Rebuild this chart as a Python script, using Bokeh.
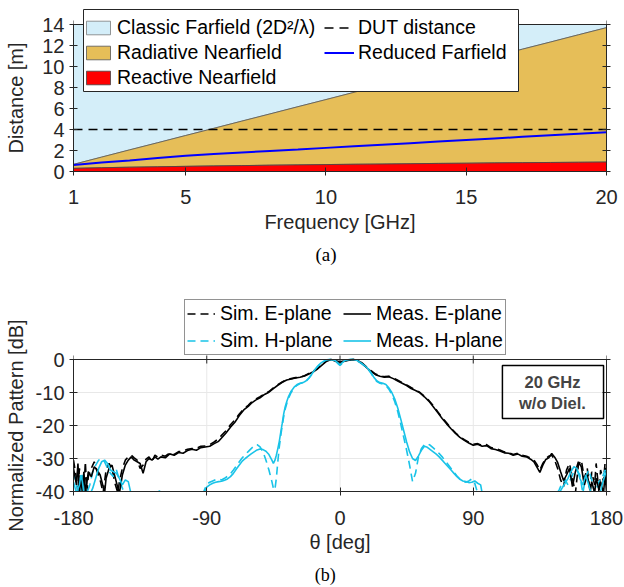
from bokeh.plotting import figure
from bokeh.models import Range1d, LinearAxis, Legend, LegendItem, Label, BoxAnnotation, FixedTicker, Span
from bokeh.layouts import column
from bokeh.embed import file_html
from bokeh.resources import INLINE

# ---------------- data: (a) distances vs frequency ----------------
freq = [1, 2, 3, 4, 5, 6, 7, 8, 9, 10, 11, 12, 13, 14, 15, 16, 17, 18, 19, 20]
classic_farfield = [0.68, 1.37, 2.06, 2.74, 3.43, 4.11, 4.80, 5.48, 6.17, 6.85,
                    7.54, 8.22, 8.91, 9.59, 10.28, 10.96, 11.65, 12.33, 13.02, 13.70]
reduced_farfield = [0.62, 0.85, 1.05, 1.28, 1.50, 1.66, 1.81, 1.96, 2.10, 2.25,
                    2.40, 2.55, 2.70, 2.85, 3.00, 3.15, 3.30, 3.45, 3.60, 3.74]
reactive_nearfield = [0.30, 0.36, 0.41, 0.45, 0.49, 0.53, 0.56, 0.60, 0.63, 0.66,
                      0.69, 0.71, 0.74, 0.77, 0.79, 0.82, 0.84, 0.86, 0.88, 0.90]
dut_distance = 4.0
freq_min, freq_max = 1, 20
dist_min, dist_max = 0.0, 14.0
freq_ticks = [1, 5, 10, 15, 20]
freq_tick_labels = ["1", "5", "10", "15", "20"]
dist_ticks = [0, 2, 4, 6, 8, 10, 12, 14]
dist_tick_labels = ["0", "2", "4", "6", "8", "10", "12", "14"]

# ---------------- data: (b) normalized patterns ----------------
theta_E = [-180, -178, -177, -176, -175, -174, -173, -172, -171, -170,
           -168, -166, -164, -162, -160, -159, -158, -156, -154, -152,
           -150, -149, -147, -145, -143, -141, -139, -137, -135, -133,
           -131, -129, -127, -125, -123, -121, -118, -115, -112, -109,
           -106, -103, -100, -97, -94, -91, -88, -85, -82, -80,
           -77, -74, -71, -68, -65, -62, -60, -57, -54, -51,
           -48, -45, -42, -39, -36, -33, -30, -27, -24, -21,
           -18, -15, -12, -9, -6, -3, 0, 3, 6, 9,
           12, 15, 18, 21, 24, 27, 30, 33, 36, 39,
           42, 45, 48, 51, 54, 57, 60, 63, 66, 69,
           72, 75, 78, 81, 84, 87, 90, 93, 96, 99,
           102, 105, 108, 111, 114, 117, 120, 123, 126, 129,
           131, 133, 135, 137, 139, 141, 143, 145, 147, 149,
           151, 153, 155, 157, 159, 161, 163, 165, 167, 169,
           170, 172, 173, 175, 176, 178, 179, 180]
meas_E = [-33, -38, -31.5, -40, -36, -40.5, -34, -40, -37.5, -34,
          -35.5, -32.5, -33.5, -35, -38.5, -40.5, -36, -33, -32, -35.5,
          -39, -40.5, -35, -32, -30.5, -29.5, -30.5, -31, -31.5, -34.5,
          -31, -30, -30.5, -29.5, -30.2, -29.5, -29.8, -28.6, -29, -28.2,
          -28.4, -27.6, -27.2, -27.5, -26.7, -26.5, -26.3, -25.5, -24.8, -23.8,
          -22.3, -20.5, -19, -17, -15.3, -14.2, -13.3, -12.3, -11.6, -10.6,
          -9.9, -8.8, -7.8, -6.9, -6.2, -5.9, -5.6, -5.4, -5.0, -4.4,
          -3.7, -2.8, -1.6, -0.5, 0, -0.5, -0.9, -0.5, -0.2, 0,
          -0.3, -1.2, -2.5, -3.6, -4.6, -5.1, -5.4, -5.2, -5.8, -6.5,
          -7.2, -7.9, -8.8, -9.4, -10.1, -11.3, -12.6, -14.3, -16.1, -17.9,
          -19.5, -21, -22.4, -23.6, -24.5, -25.3, -26, -25.7, -26.3, -26.1,
          -27, -27.3, -27.7, -28.3, -28.4, -29, -28.6, -29.3, -29.5, -30.3,
          -31, -32.6, -34.2, -32, -30.3, -29.8, -28.5, -29.6, -31.2, -34,
          -36.7, -35, -33, -38.5, -34, -31, -32.5, -38, -35, -39.5,
          -37, -40.5, -36, -39.5, -37, -40.5, -35, -40]
sim_E = [-30.5, -36, -40.5, -33, -39, -35, -40.5, -31, -40, -35.5,
         -33, -31, -34, -36.5, -40.5, -37, -33.5, -31.5, -33, -37.5,
         -40.5, -37, -33, -30.5, -29.5, -29, -29.8, -30.5, -33, -32,
         -30.2, -29.5, -31, -29, -29.6, -29, -29.3, -28.3, -28.8, -27.9,
         -27.8, -27.2, -27, -26.9, -26.3, -26.2, -25.8, -25, -24, -23,
         -21.6, -19.8, -18.3, -16.5, -15, -13.9, -13, -12, -11.3, -10.4,
         -9.7, -8.6, -7.6, -6.8, -6.1, -5.8, -5.5, -5.3, -4.9, -4.2,
         -3.5, -2.6, -1.4, -0.4, 0, -0.4, -0.7, -0.4, -0.1, 0,
         -0.2, -1.1, -2.3, -3.4, -4.4, -4.9, -5.2, -5.1, -5.6, -6.3,
         -7.0, -7.7, -8.5, -9.2, -10.0, -11.1, -12.4, -14.0, -15.8, -17.6,
         -19.2, -20.8, -22.2, -23.4, -24.3, -25.1, -25.7, -25.5, -26.0, -25.8,
         -26.7, -27.0, -27.4, -28.0, -28.2, -28.8, -28.4, -29.0, -29.3, -30,
         -30.5, -31.8, -33.5, -31.5, -30, -29.3, -29, -30.5, -33, -36.5,
         -38.5, -33.5, -31.5, -36, -40.5, -32, -30.5, -36, -33, -40.5,
         -34, -38, -31.5, -40.5, -33.5, -37, -31.5, -36]

theta_H = [-180, -178, -176, -175, -174, -173, -171, -169, -167, -165,
           -163, -161, -159, -157, -155, -153, -151, -149, -147, -145,
           -143, -141, -138, -130, -123, -122, -121, -110, -100, -94,
           -92, -90, -88, -86, -84, -82, -80, -78, -76, -74,
           -72, -70, -68, -66, -64, -62, -60, -58, -56, -54,
           -52, -50, -48, -46, -45, -44, -43, -42, -41, -40,
           -39, -38, -37, -36, -35, -33, -31, -29, -27, -25,
           -23, -21, -19, -17, -15, -13, -11, -9, -7, -5,
           -3, -1, 0, 1, 3, 5, 7, 9, 11, 13,
           15, 17, 19, 21, 23, 25, 27, 29, 31, 33,
           35, 37, 39, 41, 43, 45, 47, 49, 51, 53,
           55, 57, 59, 61, 63, 65, 67, 69, 71, 73,
           75, 77, 79, 81, 83, 85, 87, 89, 91, 93,
           95, 96, 100, 120, 140, 146, 148, 150, 152, 154,
           156, 158, 160, 162, 164, 166, 168, 170, 172, 175,
           177, 179, 180]
meas_H = [-37, -40.5, -38, -35, -37, -40.5, -42, -41, -39, -36,
          -33, -31, -30.5, -31.5, -33.5, -34, -34.5, -36, -38, -36.5,
          -37, -41, -45, -48, -42, -39.7, -42, -48, -48, -44,
          -40.5, -38.7, -38, -37.5, -37.2, -37, -36.9, -36.6, -36.2, -35.5,
          -34.5, -33.2, -32, -30.8, -30, -29.3, -28.6, -28, -27.4, -27.1,
          -27.3, -27.8, -28.8, -30.5, -31.5, -30.6, -29, -27, -24.8, -22,
          -19.3, -16.4, -14.3, -12.8, -11.5, -9.6, -8.4, -7.6, -7.2, -7.0,
          -6.5, -5.6, -4.4, -3.1, -2.0, -1.1, -0.5, -0.1, 0, -0.1,
          -0.4, -1.2, -1.6, -1.2, -0.4, -0.1, 0, 0, -0.2, -0.7,
          -1.3, -2, -2.8, -4, -5.5, -6.5, -7, -7.2, -7.6, -8.6,
          -10, -12, -14.7, -18, -21.5, -25, -28, -30, -30.6, -29.2,
          -27.5, -26.3, -26.6, -27.3, -28, -28.7, -29.5, -30.5, -31.5, -32.5,
          -33.5, -34.5, -35.5, -36.3, -36.8, -37, -37.3, -37.2, -36.8, -37.5,
          -38, -40.5, -45, -48, -46, -42, -40.5, -39, -37.5, -36,
          -34, -32.5, -33, -36, -38, -35, -38, -41, -44, -42,
          -38, -35, -34]
sim_H = [-34, -38, -41, -39, -35, -37.5, -40.5, -38, -34, -32,
         -30.5, -30, -31, -33, -34.5, -35.5, -33.5, -36.5, -39, -41,
         -42, -44, -47, -48, -46, -44, -46, -48, -47, -43,
         -40, -37.8, -37.2, -36.8, -36.4, -36.2, -36.5, -36, -35.4, -34.6,
         -33.5, -32.3, -31, -29.8, -28.8, -27.9, -27, -26.2, -25.8, -26.5,
         -28, -30.5, -33.5, -37, -39, -39.5, -36, -31, -26.5, -23,
         -20, -17.2, -15, -13.4, -12, -10, -8.6, -7.8, -7.3, -7.1,
         -6.6, -5.7, -4.5, -3.2, -2.1, -1.2, -0.6, -0.2, 0, -0.2,
         -0.5, -1.4, -1.8, -1.4, -0.5, -0.2, 0, 0, -0.3, -0.8,
         -1.4, -2.1, -3, -4.2, -5.7, -6.7, -7.2, -7.4, -7.9, -9,
         -10.6, -12.8, -15.8, -19.5, -23.5, -27.5, -32, -37, -34.5, -29.5,
         -27, -25.8, -25.5, -26, -26.8, -27.6, -28.5, -29.5, -30.7, -31.8,
         -33, -34.2, -35.3, -36.2, -36.8, -37.2, -36.8, -36.2, -37.5, -40.5,
         -43, -45, -48, -48, -45, -41, -39.5, -37.5, -36.5, -38,
         -36, -34, -33.5, -35, -40.5, -35.5, -33.5, -36.5, -40.5, -37,
         -36, -33.5, -35]
theta_min, theta_max = -180, 180
theta_ticks = [-180, -90, 0, 90, 180]
theta_tick_labels = ["-180", "-90", "0", "90", "180"]
db_ticks = [-40, -30, -20, -10, 0]
db_tick_labels = ["-40", "-30", "-20", "-10", "0"]
db_min, db_max = -40.0, 0.0

assert len(theta_E) == len(meas_E) == len(sim_E)
assert len(theta_H) == len(meas_H) == len(sim_H)

# ---------------- layout (pixels) ----------------
W = 624
BORDER_L, BORDER_R = 73, 18
FRAME_W = W - BORDER_L - BORDER_R
P1_H, P1_TOP, P1_BOTTOM = 270, 7, 99      # frame of (a) reaches above the axes box (room for legend)
BOX1_H = 147                              # pixel height of the 0..14 m axes box
P2_H, P2_TOP, P2_BOTTOM = 317, 27, 96     # frame of (b) reaches above the axes box (room for legend)
BOX2_H = 132                              # pixel height of the -40..0 dB axes box
TICK = 4                                  # tick length (in / out)

# ---------------- styling ----------------
SANS = "Liberation Sans"
SERIF = "Liberation Serif"
AXC = "#262626"
C_CLASSIC = "#d4eef9"
C_RADIATIVE = "#e6be58"
C_REACTIVE = "#ff0000"
C_CYAN = "#19c3e8"
TICK_FS = "20px"
LABEL_FS = "20px"
LEG_FS = "19.5px"


def style_axis(ax, ticks, labels=None, bounds=None):
    ax.ticker = FixedTicker(ticks=ticks)
    ax.axis_line_color = AXC
    ax.major_tick_line_color = AXC
    ax.major_tick_in = TICK
    ax.major_tick_out = TICK
    ax.minor_tick_line_color = None
    ax.major_label_text_font = SANS
    ax.major_label_text_color = AXC
    ax.axis_label_text_font = SANS
    ax.axis_label_text_font_style = "normal"
    ax.axis_label_text_font_size = LABEL_FS
    ax.axis_label_text_color = AXC
    if bounds is not None:
        ax.bounds = bounds
    if labels is not None:
        ax.major_label_text_font_size = TICK_FS
        ax.major_label_overrides = {t: s for t, s in zip(ticks, labels)}
    else:
        ax.major_label_text_font_size = "1px"
        ax.major_label_text_color = None
        ax.major_label_standoff = 0


def text_axis(pos, text, standoff, font, size, color, orientation=None):
    """An axis with a single labelled position, used to place a text outside the frame."""
    ax = LinearAxis(ticker=FixedTicker(ticks=[pos]), major_label_overrides={pos: text})
    ax.axis_line_color = None
    ax.major_tick_line_color = None
    ax.minor_tick_line_color = None
    ax.major_tick_in = 0
    ax.major_tick_out = 0
    ax.major_label_standoff = standoff
    ax.major_label_text_font = font
    ax.major_label_text_font_size = size
    ax.major_label_text_color = color
    if orientation is not None:
        ax.major_label_orientation = orientation
    return ax


def style_legend(leg, glyph_w, standoff, spacing, padding, framed=True):
    if framed:
        leg.border_line_color = AXC
        leg.border_line_width = 1
        leg.background_fill_alpha = 1
    else:
        leg.border_line_color = None
        leg.background_fill_alpha = 0
    leg.label_text_font = SANS
    leg.label_text_font_size = LEG_FS
    leg.label_text_color = "black"
    leg.glyph_width = glyph_w
    leg.glyph_height = 17
    leg.label_standoff = standoff
    leg.spacing = spacing
    leg.padding = padding
    leg.margin = 0


# ================= (a) =================
frame1_h = P1_H - P1_TOP - P1_BOTTOM
y1_end = dist_min + (dist_max - dist_min) * frame1_h / BOX1_H
p1 = figure(width=W, height=P1_H, x_range=Range1d(freq_min, freq_max), y_range=Range1d(dist_min, y1_end),
            output_backend="svg", toolbar_location=None,
            min_border_left=BORDER_L, min_border_right=BORDER_R,
            min_border_top=P1_TOP, min_border_bottom=P1_BOTTOM)
p1.grid.grid_line_color = None
p1.outline_line_color = None
p1.background_fill_color = "white"

n = len(freq)
top_line = [dist_max] * n
zero_line = [dist_min] * n
r_classic = p1.patch(freq + freq[::-1], classic_farfield + top_line[::-1],
                     fill_color=C_CLASSIC, line_color="#7a7a7a", line_width=0.8)
r_rad = p1.patch(freq + freq[::-1], reactive_nearfield + classic_farfield[::-1],
                 fill_color=C_RADIATIVE, line_color="#555555", line_width=0.8)
r_rea = p1.patch(freq + freq[::-1], zero_line + reactive_nearfield[::-1],
                 fill_color=C_REACTIVE, line_color="#444444", line_width=0.8)
r_red = p1.line(freq, reduced_farfield, line_color="#0000ff", line_width=2)
r_dut = p1.line(freq, [dut_distance] * n, line_color="black", line_width=1.6, line_dash="9 6")
# top edge of the axes box with its tick marks
p1.add_layout(Span(location=dist_max, dimension="width", line_color=AXC, line_width=1))
t1 = TICK * (dist_max - dist_min) / BOX1_H
p1.segment(x0=freq_ticks, y0=[dist_max - t1] * len(freq_ticks), x1=freq_ticks,
           y1=[dist_max + t1] * len(freq_ticks), line_color=AXC, line_width=1)

p1.add_layout(LinearAxis(), "right")
style_axis(p1.below[0], freq_ticks, freq_tick_labels)
style_axis(p1.left[0], dist_ticks, dist_tick_labels, bounds=(dist_min, dist_max))
style_axis(p1.right[0], dist_ticks, bounds=(dist_min, dist_max))
p1.below[0].major_label_standoff = 14
p1.below[0].axis_label = "Frequency [GHz]"
p1.below[0].axis_label_standoff = 4
p1.left[0].major_label_standoff = 5
p1.add_layout(text_axis((dist_min + dist_max) / 2, "Distance [m]", 13, SANS, LABEL_FS, AXC,
                        orientation="parallel"), "left")
p1.add_layout(text_axis(10, "(a)", 8, SERIF, "19px", "black"), "below")


# legend frame (pixel box converted to data units of the frame)
def px_to_f(px):
    return freq_min + (px - BORDER_L) * (freq_max - freq_min) / FRAME_W


def py_to_d(py):
    return dist_min + (P1_TOP + frame1_h - py) * (dist_max - dist_min) / BOX1_H


p1.add_layout(BoxAnnotation(left=px_to_f(83), right=px_to_f(518), top=py_to_d(9), bottom=py_to_d(91),
                            fill_color="white", fill_alpha=1, line_color=AXC, line_alpha=1, line_width=1))
leg1a = Legend(items=[
    LegendItem(label="Classic Farfield (2D\u00b2/\u03bb)", renderers=[r_classic]),
    LegendItem(label="Radiative Nearfield", renderers=[r_rad]),
    LegendItem(label="Reactive Nearfield", renderers=[r_rea]),
], location=(10, 82))
style_legend(leg1a, 30, 4, 2, 5, framed=False)
p1.add_layout(leg1a)
leg1b = Legend(items=[
    LegendItem(label="DUT distance", renderers=[r_dut]),
    LegendItem(label="Reduced Farfield", renderers=[r_red]),
], location=(251, 107))
style_legend(leg1b, 30, 4, 2, 5, framed=False)
p1.add_layout(leg1b)

# ================= (b) =================
frame2_h = P2_H - P2_TOP - P2_BOTTOM
y2_end = db_min + (db_max - db_min) * frame2_h / BOX2_H
p2 = figure(width=W, height=P2_H, x_range=Range1d(theta_min, theta_max), y_range=Range1d(db_min, y2_end),
            output_backend="svg", toolbar_location=None,
            min_border_left=BORDER_L, min_border_right=BORDER_R,
            min_border_top=P2_TOP, min_border_bottom=P2_BOTTOM)
p2.outline_line_color = None
p2.xgrid.grid_line_color = None
p2.ygrid.ticker = FixedTicker(ticks=db_ticks)
p2.ygrid.grid_line_color = "#e8e8e8"
vgrid = theta_ticks[1:-1]
p2.segment(x0=vgrid, y0=[db_min] * len(vgrid), x1=vgrid, y1=[db_max] * len(vgrid),
           line_color="#e8e8e8", line_width=1, level="underlay")

r_sE = p2.line(theta_E, sim_E, line_color="black", line_width=1.6, line_dash="8 5")
r_sH = p2.line(theta_H, sim_H, line_color=C_CYAN, line_width=1.6, line_dash="8 5")
r_mE = p2.line(theta_E, meas_E, line_color="black", line_width=1.6)
r_mH = p2.line(theta_H, meas_H, line_color=C_CYAN, line_width=1.6)
p2.add_layout(Span(location=db_max, dimension="width", line_color=AXC, line_width=1))
t2 = TICK * (db_max - db_min) / BOX2_H
p2.segment(x0=theta_ticks, y0=[db_max - t2] * len(theta_ticks), x1=theta_ticks,
           y1=[db_max + t2] * len(theta_ticks), line_color=AXC, line_width=1)

p2.add_layout(LinearAxis(), "right")
style_axis(p2.below[0], theta_ticks, theta_tick_labels)
style_axis(p2.left[0], db_ticks, db_tick_labels, bounds=(db_min, db_max))
style_axis(p2.right[0], db_ticks, bounds=(db_min, db_max))
p2.below[0].major_label_standoff = 15
p2.below[0].axis_label = "\u03b8 [deg]"
p2.below[0].axis_label_standoff = 3
p2.left[0].major_label_standoff = 5
p2.add_layout(text_axis((db_min + db_max) / 2, "Normalized Pattern [dB]", 6, SANS, LABEL_FS, AXC,
                        orientation="parallel"), "left")
p2.add_layout(text_axis(-10, "(b)", 9, SERIF, "18px", "black"), "below")

leg2 = Legend(items=[
    LegendItem(label="Sim. E-plane", renderers=[r_sE]),
    LegendItem(label="Sim. H-plane", renderers=[r_sH]),
    LegendItem(label="Meas. E-plane", renderers=[r_mE]),
    LegendItem(label="Meas. H-plane", renderers=[r_mH]),
], ncols=2, location=(111, 136))
style_legend(leg2, 28, 5, 4, 2)
leg2.label_width = 119
p2.add_layout(leg2)

p2.add_layout(BoxAnnotation(left=109.7, right=178, top=-1.8, bottom=-17.9,
                            fill_alpha=0, line_color="black", line_alpha=1, line_width=1.5))
p2.add_layout(Label(x=143.5, y=-6.7, text="20 GHz", text_font=SANS, text_font_style="bold",
                    text_font_size="16.5px", text_align="center", text_baseline="middle"))
p2.add_layout(Label(x=143.5, y=-13.3, text="w/o Diel.", text_font=SANS, text_font_style="bold",
                    text_font_size="16.5px", text_align="center", text_baseline="middle"))

layout = column(p1, p2, spacing=0)
open("out.html", "w").write(file_html(layout, INLINE))
